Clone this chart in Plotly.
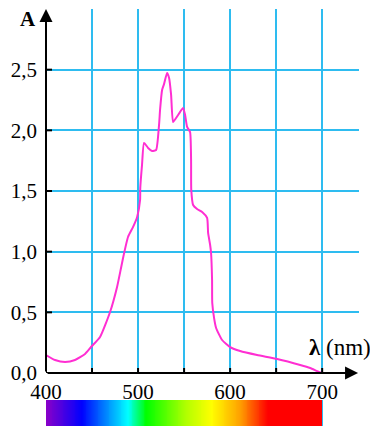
import plotly.graph_objects as go

# ---- data ----
wavelength_nm = [400.0, 409.8, 420.7, 431.5, 442.4, 448.9, 458.7, 469.6, 477.2, 481.5,
                 483.7, 489.1, 494.6, 499.0, 502.2, 502.4, 504.3, 506.5, 510.9, 515.2,
                 519.6, 522.8, 523.9, 526.1, 528.3, 531.5, 533.7, 535.9, 538.0, 541.3,
                 545.7, 548.9, 551.1, 553.3, 556.5, 557.6, 557.8, 559.8, 564.1, 569.6,
                 575.0, 576.1, 578.3, 579.3, 580.4, 580.6, 582.6, 584.8, 591.3, 600.0,
                 610.9, 629.3, 651.1, 676.1, 687.0, 694.6, 700.0]
absorbance = [0.148, 0.107, 0.091, 0.107, 0.157, 0.214, 0.297, 0.503, 0.709, 0.866,
              0.948, 1.121, 1.204, 1.286, 1.426, 1.525, 1.715, 1.896, 1.855, 1.830,
              1.838, 2.045, 2.168, 2.333, 2.383, 2.473, 2.432, 2.292, 2.069, 2.102,
              2.152, 2.185, 2.127, 2.028, 1.987, 1.756, 1.509, 1.385, 1.352, 1.327,
              1.278, 1.154, 1.055, 0.989, 0.767, 0.577, 0.453, 0.371, 0.272, 0.214,
              0.181, 0.148, 0.115, 0.066, 0.041, 0.016, 0.0]

x_ticks = [400, 450, 500, 550, 600, 650, 700]
x_ticktext = ["400", "", "500", "", "600", "", "700"]
y_ticks = [0.0, 0.5, 1.0, 1.5, 2.0, 2.5, 3.0]
y_ticktext = ["0,0", "0,5", "1,0", "1,5", "2,0", "2,5", ""]

spectrum_nm = [400, 439, 489, 509, 553, 580, 611, 641, 700]
spectrum_colors = ["#8a00c8", "#0000ff", "#00ffff", "#00ff00", "#b4ff00",
                   "#ffff00", "#ffa000", "#ff0000", "#ff0000"]

X_MAX = 740
Y_MAX = 3.0
GRID = "#2ebcf0"
CURVE = "#ff2ed2"
FONT = "Liberation Serif"

fig = go.Figure()

edges = list(range(spectrum_nm[0], spectrum_nm[-1] + 1))
mids = [e + 0.5 for e in edges[:-1]]
lo, hi = spectrum_nm[0], spectrum_nm[-1]
cscale = [[(v - lo) / (hi - lo), c] for v, c in zip(spectrum_nm, spectrum_colors)]
fig.add_trace(go.Heatmap(x=edges, y=[0, 1], z=[mids], colorscale=cscale,
                         zmin=lo, zmax=hi, showscale=False, hoverinfo="skip",
                         xaxis="x", yaxis="y2"))

fig.add_trace(go.Scatter(x=wavelength_nm, y=absorbance, mode="lines",
                         line=dict(color=CURVE, width=2, shape="spline", smoothing=0.5),
                         hoverinfo="skip", xaxis="x", yaxis="y"))

shapes = []
for v in x_ticks:
    shapes.append(dict(type="line", xref="x", yref="y", x0=v, x1=v,
                       ysizemode="pixel", yanchor=0, y0=-5, y1=5,
                       line=dict(color="black", width=2)))
for v in y_ticks[:-1]:
    shapes.append(dict(type="line", xref="x", yref="y", y0=v, y1=v,
                       xsizemode="pixel", xanchor=400, x0=-6, x1=6,
                       line=dict(color="black", width=2)))

annotations = [
    dict(x=X_MAX - 1, y=0, ax=400, ay=0, xref="x", yref="y", axref="x", ayref="y",
         showarrow=True, arrowhead=2, arrowsize=1.3, arrowwidth=2, arrowcolor="black", text=""),
    dict(x=400, y=Y_MAX, ax=400, ay=0, xref="x", yref="y", axref="x", ayref="y",
         showarrow=True, arrowhead=2, arrowsize=1.3, arrowwidth=2, arrowcolor="black", text=""),
    dict(x=400, y=Y_MAX, xref="x", yref="y", text="<b>A</b>", showarrow=False,
         xanchor="right", yanchor="middle", xshift=-8, yshift=-10,
         font=dict(family=FONT, size=21, color="black")),
    dict(x=684, y=0.214, xref="x", yref="y", text="<b>λ</b> (nm)", showarrow=False,
         xanchor="left", yanchor="middle",
         font=dict(family=FONT, size=23, color="black")),
]

W, H = 370, 422
l, t, b, r = 38, 1, 4, 19
ph = H - t - b
fig.update_layout(
    width=W, height=H,
    margin=dict(l=l, r=r, t=t, b=b, autoexpand=False),
    paper_bgcolor="white", plot_bgcolor="white",
    font=dict(family=FONT, size=21, color="black"),
    showlegend=False,
    xaxis=dict(range=[400, X_MAX], tickvals=x_ticks, ticktext=x_ticktext,
               showgrid=True, gridcolor=GRID, gridwidth=2, zeroline=False,
               showline=False, ticks="", ticklabelstandoff=4, automargin=False,
               tickfont=dict(family=FONT, size=21, color="black"),
               anchor="y", fixedrange=True),
    yaxis=dict(range=[0, Y_MAX], tickvals=y_ticks, ticktext=y_ticktext,
               showgrid=True, gridcolor=GRID, gridwidth=2, zeroline=False,
               showline=False, ticks="", ticklabelstandoff=8, automargin=False,
               tickfont=dict(family=FONT, size=21, color="black"),
               domain=[(418 - 365) / ph, 1], fixedrange=True),
    yaxis2=dict(range=[0, 1], domain=[0, (418 - 392) / ph], visible=False,
                automargin=False, fixedrange=True),
    shapes=shapes,
    annotations=annotations,
)

fig.write_html("out.html")
